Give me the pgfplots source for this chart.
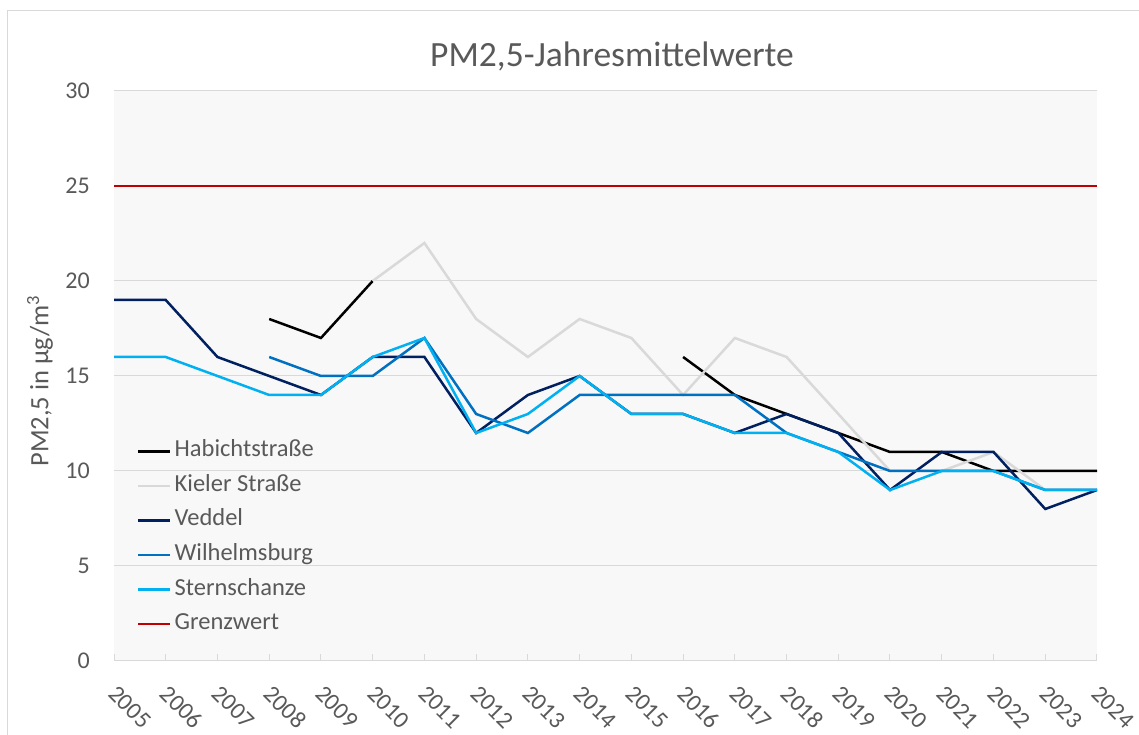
\documentclass[border=0pt]{standalone}
\usepackage{fontspec}
\setmainfont{Carlito}
\usepackage{pgfplots}
\pgfplotsset{compat=1.18}
\definecolor{txt}{HTML}{595959}
\definecolor{gridc}{HTML}{D9D9D9}
\definecolor{bgc}{HTML}{F8F8F8}
\definecolor{habicht}{HTML}{000000}
\definecolor{kieler}{HTML}{D9D9D9}
\definecolor{veddel}{HTML}{002060}
\definecolor{wilh}{HTML}{0070C0}
\definecolor{stern}{HTML}{00B0F0}
\definecolor{grenz}{HTML}{C00000}
\begin{document}
\begin{tikzpicture}[x=1pt,y=1pt]
\draw[gridc, line width=1pt] (7.5,-10) -- (7.5,724.5) -- (1150,724.5);
\node[txt, anchor=base, font=\fontsize{35.5}{42}\selectfont] at (612,668) {PM2,5-Jahresmittelwerte};
\node[txt, rotate=90, font=\fontsize{26.5}{32}\selectfont] at (40,354) {PM2,5 in µg/m\textsuperscript{3}};
\begin{axis}[
  at={(114pt,74pt)}, anchor=south west,
  scale only axis, width=983pt, height=570pt,
  xmin=2005, xmax=2024, ymin=0, ymax=30,
  xtick={2005,...,2024}, ytick={0,5,...,30},
  /pgf/number format/1000 sep={},
  /pgf/number format/assume math mode=true,
  axis background/.style={fill=bgc},
  axis x line*=bottom, axis y line*=left,
  x axis line style={draw=gridc, line width=1pt, -},
  y axis line style={draw=none},
  ymajorgrids, grid style={gridc, line width=1pt},
  xtick style={draw=gridc, line width=1pt}, major tick length=7pt,
  xtick align=inside,
  ytick style={draw=none},
  tick label style={txt, font=\fontsize{24}{29}\selectfont},
  yticklabel style={anchor=east, inner sep=0pt, xshift=-24pt},
  xticklabel style={anchor=center, inner sep=0pt, xshift=16pt, yshift=-46pt, rotate=-45},
  unbounded coords=jump,
  legend cell align=left,
  legend style={draw=none, fill=none, at={(axis description cs:0.0203,0.392)}, anchor=north west,
    font=\fontsize{24.5}{29}\selectfont, text=txt, row sep=11.6pt,
    nodes={inner sep=0pt, text height=17pt, text depth=6pt},
    /tikz/every odd column/.append style={column sep=3pt}},
  legend image code/.code={\draw[#1] (0pt,0pt) -- (32pt,0pt);},
  every axis plot/.append style={line width=2.5pt},
]
\addplot[habicht] coordinates {(2008,18) (2009,17) (2010,20) (2011,nan) (2016,16) (2017,14) (2018,13) (2019,12) (2020,11) (2021,11) (2022,10) (2023,10) (2024,10)};
\addlegendentry{Habichtstraße}
\addplot[kieler] coordinates {(2010,20) (2011,22) (2012,18) (2013,16) (2014,18) (2015,17) (2016,14) (2017,17) (2018,16) (2019,13) (2020,10) (2021,10) (2022,11) (2023,9) (2024,9)};
\addlegendentry{Kieler Straße}
\addplot[veddel] coordinates {(2005,19) (2006,19) (2007,16) (2008,15) (2009,14) (2010,16) (2011,16) (2012,12) (2013,14) (2014,15) (2015,13) (2016,13) (2017,12) (2018,13) (2019,12) (2020,9) (2021,11) (2022,11) (2023,8) (2024,9)};
\addlegendentry{Veddel}
\addplot[wilh] coordinates {(2008,16) (2009,15) (2010,15) (2011,17) (2012,13) (2013,12) (2014,14) (2015,14) (2016,14) (2017,14) (2018,12) (2019,11) (2020,10) (2021,10) (2022,10) (2023,9) (2024,9)};
\addlegendentry{Wilhelmsburg}
\addplot[stern] coordinates {(2005,16) (2006,16) (2007,15) (2008,14) (2009,14) (2010,16) (2011,17) (2012,12) (2013,13) (2014,15) (2015,13) (2016,13) (2017,12) (2018,12) (2019,11) (2020,9) (2021,10) (2022,10) (2023,9) (2024,9)};
\addlegendentry{Sternschanze}
\addplot[grenz, line width=2pt] coordinates {(2005,25) (2024,25)};
\addlegendentry{Grenzwert}
\end{axis}
\pgfresetboundingbox
\useasboundingbox (0,0) rectangle (1139,735);
\end{tikzpicture}
\end{document}
